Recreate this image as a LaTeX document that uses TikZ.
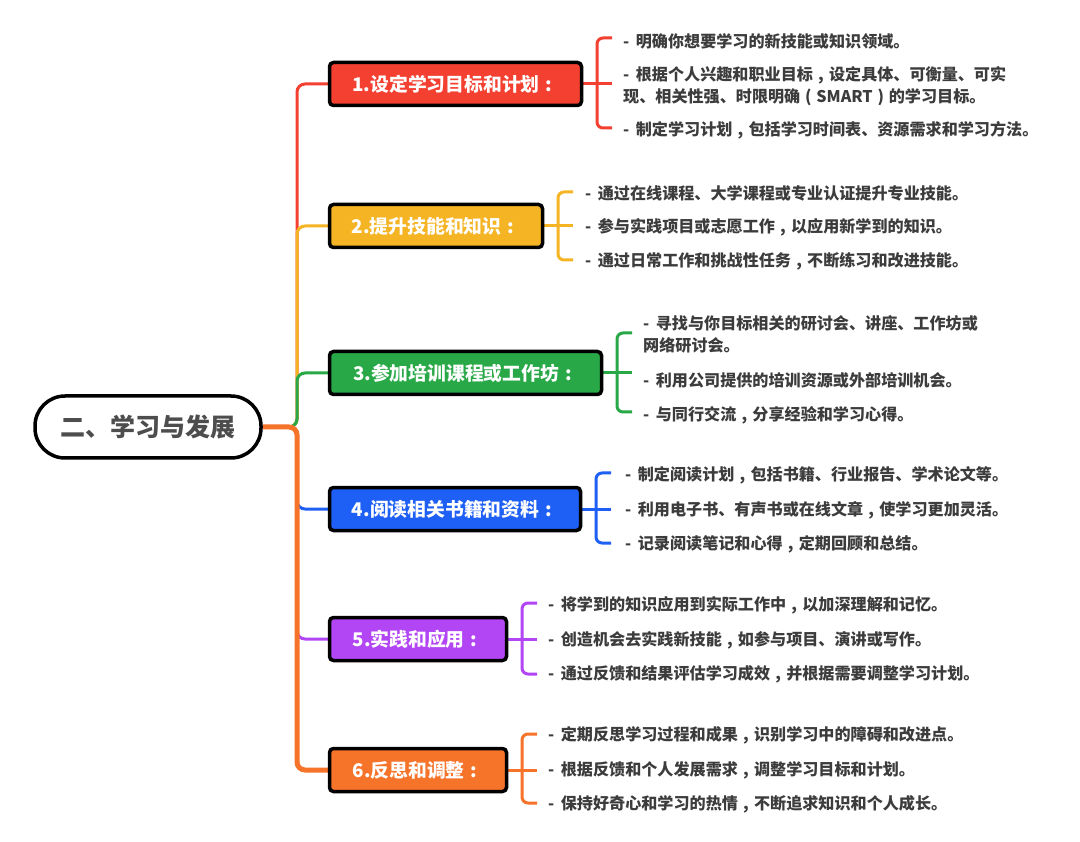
\documentclass[tikz,border=0pt]{standalone}
\usepackage{fontspec}
\setmainfont{Noto Sans CJK SC}
\usetikzlibrary{backgrounds}
\definecolor{cRed}{RGB}{244,64,48}
\definecolor{cYellow}{RGB}{245,180,36}
\definecolor{cGreen}{RGB}{40,168,70}
\definecolor{cBlue}{RGB}{30,95,245}
\definecolor{cPurple}{RGB}{178,70,245}
\definecolor{cOrange}{RGB}{246,115,42}
\definecolor{txtgray}{RGB}{60,60,60}
\definecolor{rootgray}{RGB}{77,77,77}
\newcommand\dsh{-\hspace{6.5pt}}
\newcommand\fc{\makebox[1em][c]{,}}
\newcommand\lp{\makebox[1em][c]{(}}
\newcommand\rp{\makebox[1em][c]{)}}
\newcommand\cln{\makebox[1em][c]{:}}
\tikzset{
  rootbox/.style={draw=black, fill=white, line width=3.5pt, rounded corners=30pt,
    minimum width=226pt, minimum height=62pt, inner sep=0pt, text=rootgray,
    font=\fontsize{25pt}{30pt}\selectfont\bfseries},
  topic/.style={draw=black, line width=3.5pt, rounded corners=4pt, minimum height=43pt,
    inner sep=0pt, text=white, font=\fontsize{18.8pt}{22pt}\selectfont\bfseries},
  leaf/.style={anchor=west, inner sep=0pt, align=left, text=txtgray,
    font=\fontsize{16.1pt}{22pt}\selectfont\bfseries},
  branch/.style={line width=3pt, rounded corners=8pt},
  brk/.style={line width=3pt, rounded corners=6pt},
}
\begin{document}
\begin{tikzpicture}[x=1pt,y=-1pt]
\useasboundingbox (0,0) rectangle (1080,842);
% root and topics
\node[rootbox] (root) at (148,427) {二、学习与发展};
\node[topic, fill=cRed, minimum width=252pt] (b1) at (455.5,84) {1.设定学习目标和计划\cln};
\node[topic, fill=cYellow, minimum width=213pt] (b2) at (436,226) {2.提升技能和知识\cln};
\node[topic, fill=cGreen, minimum width=272pt] (b3) at (465.5,373) {3.参加培训课程或工作坊\cln};
\node[topic, fill=cBlue, minimum width=251pt] (b4) at (455,509) {4.阅读相关书籍和资料\cln};
\node[topic, fill=cPurple, minimum width=177pt] (b5) at (418,639) {5.实践和应用\cln};
\node[topic, fill=cOrange, minimum width=177pt] (b6) at (418,770) {6.反思和调整\cln};
\coordinate (j) at (297,427);
\begin{scope}[on background layer]
\fill[white] (0,0) rectangle (1080,842);
\draw[branch, cRed] (root.east) -- (j) |- (b1.west);
\draw[branch, cYellow] (root.east) -- (j) |- (b2.west);
\draw[branch, cGreen] (root.east) -- (j) |- (b3.west);
\draw[branch, cBlue] (root.east) -- (j) |- (b4.west);
\draw[branch, cPurple] (root.east) -- (j) |- (b5.west);
\draw[branch, cOrange, line width=5pt] (root.east) -- (j) |- (b6.west);
\end{scope}
% leaves 1
\node[leaf] (c11) at (623,41) {\dsh 明确你想要学习的新技能或知识领域。};
\node[leaf] (c12) at (623,86) {\dsh 根据个人兴趣和职业目标\fc 设定具体、可衡量、可实\\现、相关性强、时限明确\lp SMART\rp 的学习目标。};
\node[leaf] (c13) at (623,130) {\dsh 制定学习计划\fc 包括学习时间表、资源需求和学习方法。};
% leaves 2
\node[leaf] (c21) at (585,193) {\dsh 通过在线课程、大学课程或专业认证提升专业技能。};
\node[leaf] (c22) at (585,227) {\dsh 参与实践项目或志愿工作\fc 以应用新学到的知识。};
\node[leaf] (c23) at (585,261) {\dsh 通过日常工作和挑战性任务\fc 不断练习和改进技能。};
% leaves 3
\node[leaf] (c31) at (643,334) {\dsh 寻找与你目标相关的研讨会、讲座、工作坊或\\网络研讨会。};
\node[leaf] (c32) at (643,380) {\dsh 利用公司提供的培训资源或外部培训机会。};
\node[leaf] (c33) at (643,415) {\dsh 与同行交流\fc 分享经验和学习心得。};
% leaves 4
\node[leaf] (c41) at (625,475) {\dsh 制定阅读计划\fc 包括书籍、行业报告、学术论文等。};
\node[leaf] (c42) at (625,510) {\dsh 利用电子书、有声书或在线文章\fc 使学习更加灵活。};
\node[leaf] (c43) at (625,544) {\dsh 记录阅读笔记和心得\fc 定期回顾和总结。};
% leaves 5
\node[leaf] (c51) at (548,605) {\dsh 将学到的知识应用到实际工作中\fc 以加深理解和记忆。};
\node[leaf] (c52) at (548,640) {\dsh 创造机会去实践新技能\fc 如参与项目、演讲或写作。};
\node[leaf] (c53) at (548,674) {\dsh 通过反馈和结果评估学习成效\fc 并根据需要调整学习计划。};
% leaves 6
\node[leaf] (c61) at (548,735) {\dsh 定期反思学习过程和成果\fc 识别学习中的障碍和改进点。};
\node[leaf] (c62) at (548,770) {\dsh 根据反馈和个人发展需求\fc 调整学习目标和计划。};
\node[leaf] (c63) at (548,804) {\dsh 保持好奇心和学习的热情\fc 不断追求知识和个人成长。};
% brackets
\coordinate (t1) at (612,38); \coordinate (v1) at (597,84); \coordinate (m1) at (612,84); \coordinate (u1) at (612,128);
\coordinate (t2) at (573,192); \coordinate (v2) at (558,226); \coordinate (m2) at (573,226); \coordinate (u2) at (573,260);
\coordinate (t3) at (632,333); \coordinate (v3) at (617,373); \coordinate (m3) at (632,373); \coordinate (u3) at (632,412);
\coordinate (t4) at (611,473); \coordinate (v4) at (596,509); \coordinate (m4) at (611,509); \coordinate (u4) at (611,543);
\coordinate (t5) at (537,603); \coordinate (v5) at (522,639); \coordinate (m5) at (537,639); \coordinate (u5) at (537,674);
\coordinate (t6) at (537,734); \coordinate (v6) at (522,770); \coordinate (m6) at (537,770); \coordinate (u6) at (537,803);
\begin{scope}[on background layer]
\draw[brk, cRed] (t1) -| (v1) |- (u1);
\draw[brk, cRed] (b1.east) -- (m1);
\draw[brk, cYellow] (t2) -| (v2) |- (u2);
\draw[brk, cYellow] (b2.east) -- (m2);
\draw[brk, cGreen] (t3) -| (v3) |- (u3);
\draw[brk, cGreen] (b3.east) -- (m3);
\draw[brk, cBlue] (t4) -| (v4) |- (u4);
\draw[brk, cBlue] (b4.east) -- (m4);
\draw[brk, cPurple] (t5) -| (v5) |- (u5);
\draw[brk, cPurple] (b5.east) -- (m5);
\draw[brk, cOrange] (t6) -| (v6) |- (u6);
\draw[brk, cOrange] (b6.east) -- (m6);
\end{scope}
\end{tikzpicture}
\end{document}
